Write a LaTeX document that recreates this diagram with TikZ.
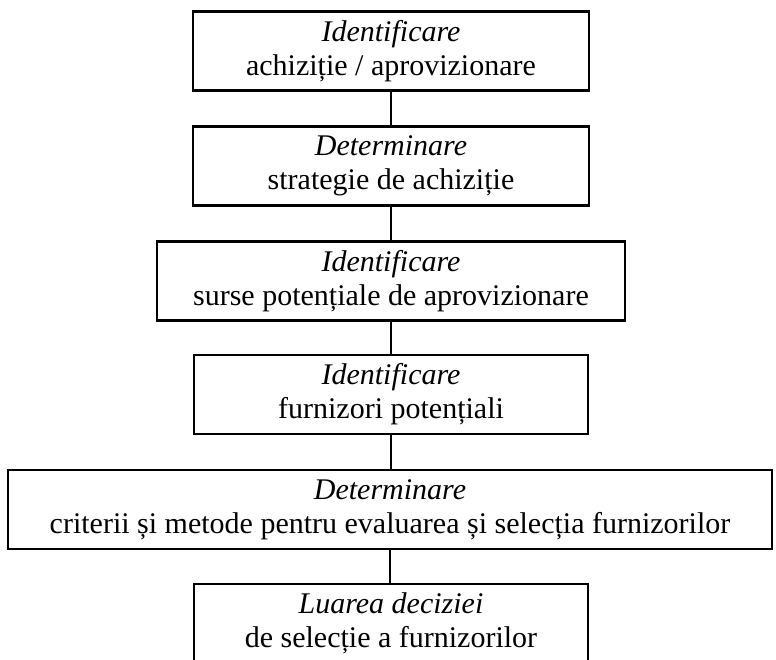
\documentclass[tikz,border=0pt]{standalone}
\usepackage{fontspec}
\setmainfont{Liberation Serif}
\usetikzlibrary{positioning}

\begin{document}
\begin{tikzpicture}[
        x=1pt, y=1pt,
        stage/.style={draw, line width=2.2pt, align=center, inner sep=2pt,
            minimum height=79pt, font=\fontsize{30}{34}\selectfont},
        link/.style={line width=2.2pt}
        ]
        \useasboundingbox (0,0) rectangle (776,659);
        \clip (0,0) rectangle (776,659);

        % stages of the selection process
        \node[stage, minimum width=396pt] (s1) at (391, 608) {\textit{Identificare}\\achiziție / aprovizionare};
        \node[stage, minimum width=396pt] (s2) at (391, 493) {\textit{Determinare}\\strategie de achiziție};
        \node[stage, minimum width=468pt] (s3) at (391, 378) {\textit{Identificare}\\surse potențiale de aprovizionare};
        \node[stage, minimum width=394pt] (s4) at (391, 264.5) {\textit{Identificare}\\furnizori potențiali};
        \node[stage, minimum width=764pt] (s5) at (390, 149.5) {\textit{Determinare}\\criterii și metode pentru evaluarea și selecția furnizorilor};
        \node[stage, minimum width=394pt] (s6) at (391, 35.5) {\textit{Luarea deciziei}\\de selecție a furnizorilor};

        % links
        \foreach \a/\b in {s1/s2, s2/s3, s3/s4, s4/s5, s5/s6} {
            \draw[link] (\a.south) -- (\a.south |- \b.north);
        }
    \end{tikzpicture}
\end{document}
